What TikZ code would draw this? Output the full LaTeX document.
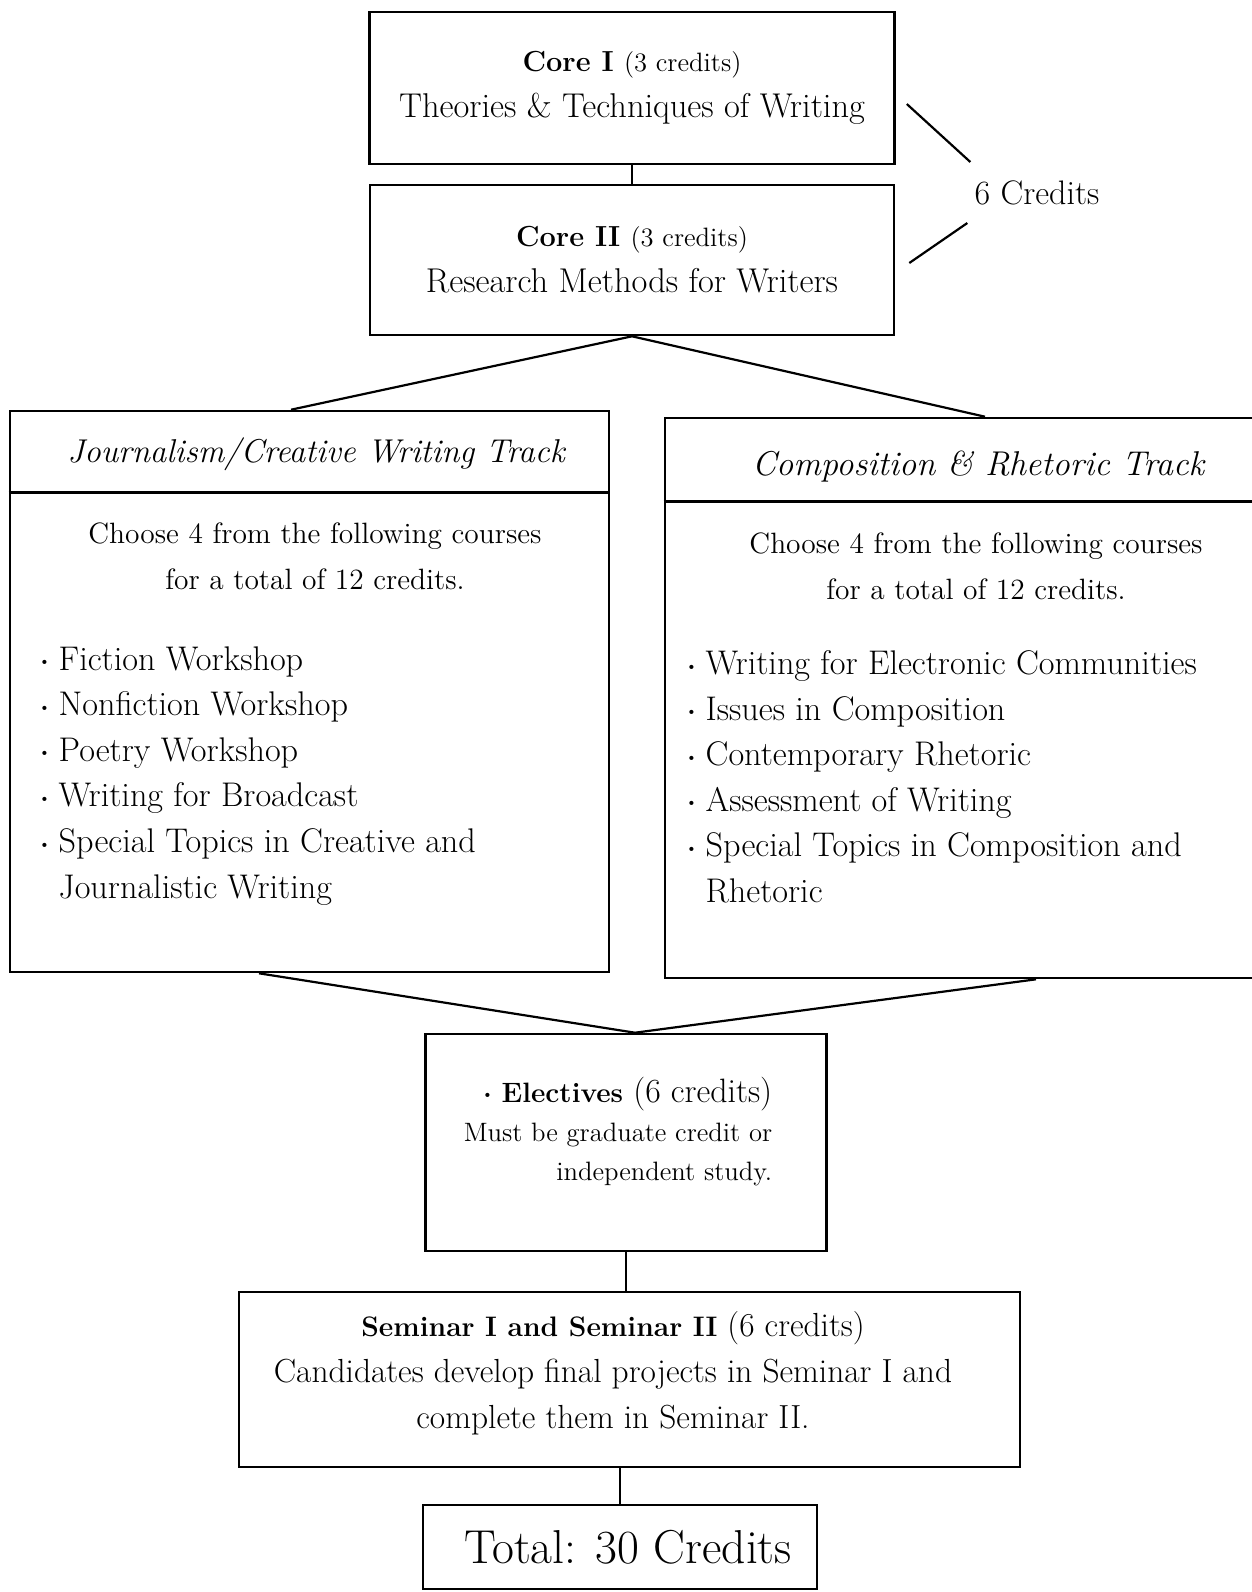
\documentclass[tikz,border=0pt]{standalone}
\usetikzlibrary{calc}
\newcommand{\itm}{\raisebox{0.3ex}{\scriptsize\textbullet}\hspace{4pt}}
\tikzset{
  box/.style={draw, line width=1.3pt, inner sep=0pt},
  link/.style={line width=1.1pt},
  txt/.style={inner sep=0pt, align=center, font=\fontsize{17.2}{23}\selectfont},
  lst/.style={inner sep=0pt, align=left, anchor=north west, font=\fontsize{17.1}{22.8}\selectfont},
  hd/.style={inner sep=0pt, font=\itshape\fontsize{16.5}{20}\selectfont},
}
\begin{document}
\begin{tikzpicture}[x=0.5pt,y=-0.5pt]
	\useasboundingbox (0,0) rectangle (1252,1592);
	
	%Core courses
	\node[box, txt, minimum width=262.5pt, minimum height=76pt] (core1) at (632,88)
		{{\fontsize{14.5}{23}\selectfont\bfseries Core I} {\fontsize{13.3}{23}\selectfont(3 credits)}\\ Theories \& Techniques of Writing};
	\node[box, txt, minimum width=262pt, minimum height=75pt] (core2) at (632,260)
		{{\fontsize{14.5}{23}\selectfont\bfseries Core II} {\fontsize{13.3}{23}\selectfont(3 credits)}\\ Research Methods for Writers};
	\draw[link] (core1.south) -- (core2.north);
	
	\node[txt, font=\fontsize{17}{23}\selectfont] (six) at (1037,193) {6 Credits};
	\draw[link] ([shift={(11,16)}]core1.east) -- ([shift={(-4,-31)}]six.west);
	\draw[link] ([shift={(14,3)}]core2.east) -- ([shift={(-7,30)}]six.west);
	
	%Journalism track
	\node[box, minimum width=299.5pt, minimum height=280.5pt] (jtrack) at (309.5,691.5) {};
	\draw[line width=1.3pt] ([yshift=-41.5pt]jtrack.north west) -- ([yshift=-41.5pt]jtrack.north east);
	\node[hd] (jhead) at (316,454) {Journalism/Creative Writing Track};
	\node[txt, font=\fontsize{14.7}{23}\selectfont] (jintro) at (315,556)
		{Choose 4 from the following courses\\ for a total of 12 credits.};
	\node[lst] (jlist) at (38,646)
		{\itm Fiction Workshop\\
		 \itm Nonfiction Workshop\\
		 \itm Poetry Workshop\\
		 \itm Writing for Broadcast\\
		 \itm Special Topics in Creative and\\
		 \hphantom{\itm}Journalistic Writing};
	
	%Composition track
	\node[box, minimum width=295.5pt, minimum height=280pt] (ctrack) at (960.5,698) {};
	\draw[line width=1.3pt] ([yshift=-42.5pt]ctrack.north west) -- ([yshift=-42.5pt]ctrack.north east);
	\node[hd, font=\itshape\fontsize{17.2}{20}\selectfont] (chead) at (978,467) {Composition \& Rhetoric Track};
	\node[txt, font=\fontsize{14.7}{23}\selectfont] (cintro) at (976,566)
		{Choose 4 from the following courses\\ for a total of 12 credits.};
	\node[lst] (clist) at (685,650)
		{\itm Writing for Electronic Communities\\
		 \itm Issues in Composition\\
		 \itm Contemporary Rhetoric\\
		 \itm Assessment of Writing\\
		 \itm Special Topics in Composition and\\
		 \hphantom{\itm}Rhetoric};
	
	\draw[link] (core2.south) -- ([xshift=-9.25pt]jtrack.north);
	\draw[link] (core2.south) -- ([xshift=12.25pt]ctrack.north);
	
	%Electives
	\node[box, minimum width=200.5pt, minimum height=108.5pt] (elec) at (626,1142.5) {};
	\node[inner sep=0pt, align=right, font=\fontsize{13.3}{19.5}\selectfont] (etxt) at (618,1132)
		{{\fontsize{16.9}{19.5}\selectfont\itm{\fontsize{14}{19.5}\selectfont\bfseries Electives} (6 credits)}\\ Must be graduate credit or\\ independent study.};
	\draw[link] ([xshift=-25.25pt]jtrack.south) -- ([xshift=4.5pt]elec.north);
	\draw[link] ([xshift=37.75pt]ctrack.south) -- ([xshift=4.5pt]elec.north);
	
	%Seminars
	\node[box, minimum width=390.5pt, minimum height=87.5pt] (sem) at (629.5,1379.5) {};
	\node[txt, font=\fontsize{16.7}{23}\selectfont] (semtxt) at (613,1373)
		{{\fontsize{14.1}{23}\selectfont\bfseries Seminar I and Seminar II} (6 credits)\\ Candidates develop final projects in Seminar I and\\ complete them in Seminar II.};
	\draw[link] (elec.south) -- (elec.south |- sem.north);
	
	%Total
	\node[box, minimum width=197pt, minimum height=42pt, font=\fontsize{23.8}{28}\selectfont] (total) at (620,1547) {\hspace{8pt}Total: 30 Credits};
	\draw[link] (total.north |- sem.south) -- (total.north);
	
\end{tikzpicture}
\end{document}
